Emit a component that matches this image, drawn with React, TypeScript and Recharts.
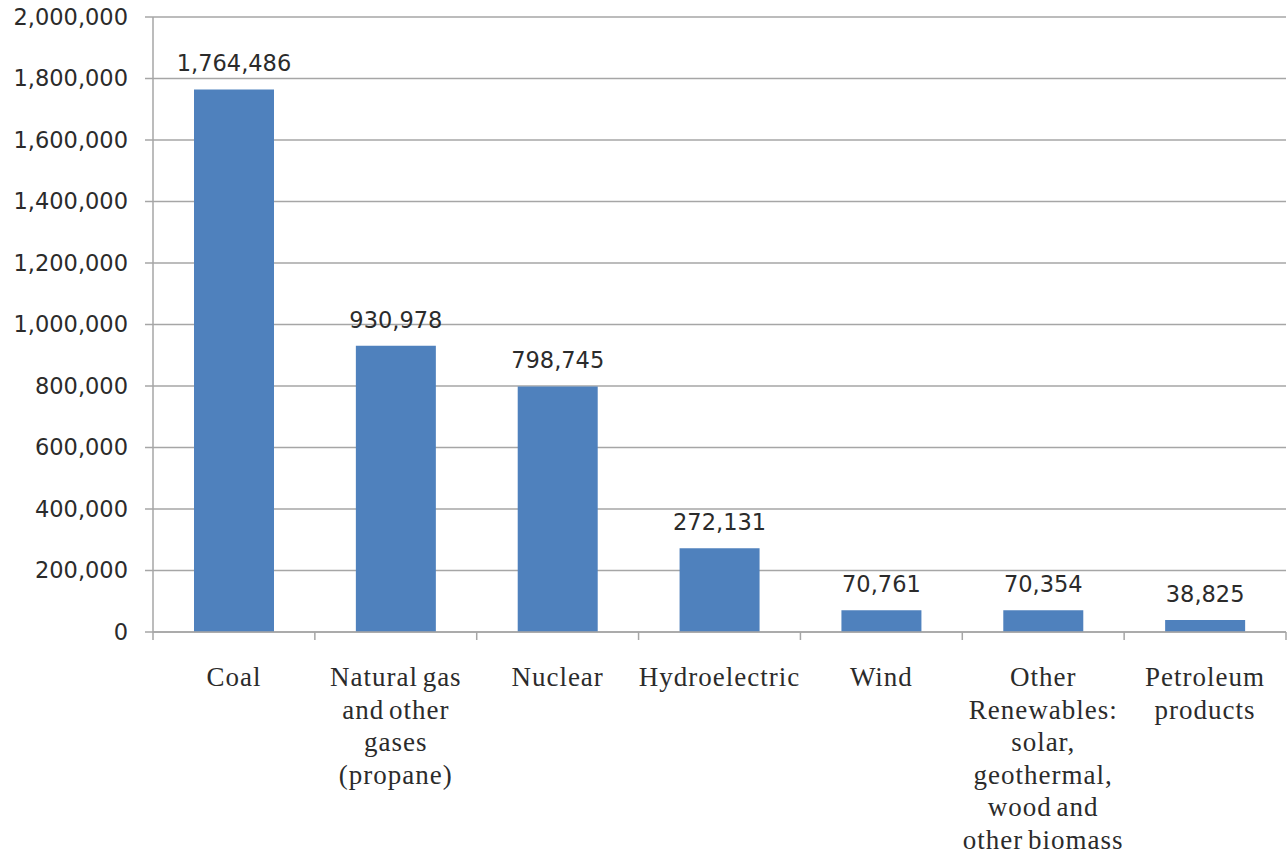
import { BarChart, Bar, XAxis, YAxis, CartesianGrid, LabelList } from "recharts";

const categories = [
  "Coal",
  "Natural gas\nand other\ngases\n(propane)",
  "Nuclear",
  "Hydroelectric",
  "Wind",
  "Other\nRenewables:\nsolar,\ngeothermal,\nwood and\nother biomass",
  "Petroleum\nproducts",
];
const generation = [1764486, 930978, 798745, 272131, 70761, 70354, 38825];
const yTicks = [0, 200000, 400000, 600000, 800000, 1000000, 1200000, 1400000, 1600000, 1800000, 2000000];

const chartData = categories.map((name, i) => ({ name, value: generation[i] }));

const SERIF = "Liberation Serif";
const SANS = "DejaVu Sans";
const TEXT = "#2b2b2b";
const GRID = "#a6a6a6";
const fmt = (v: number) => v.toLocaleString("en-US");

function CategoryTick(props: any) {
  const { x, y, payload, index, visibleTicksCount } = props;
  const half = payload.offset ?? 0;
  const lines = String(payload.value).split("\n");
  const last = index === visibleTicksCount - 1;
  return (
    <g>
      <line x1={x - half} x2={x - half} y1={y} y2={y + 8} stroke={GRID} strokeWidth={1.5} />
      {last && <line x1={x + half} x2={x + half} y1={y} y2={y + 8} stroke={GRID} strokeWidth={1.5} />}
      <text
        x={x}
        y={y}
        textAnchor="middle"
        fill={TEXT}
        style={{ fontFamily: SERIF, fontSize: 27, letterSpacing: 1, wordSpacing: -3 }}
      >
        {lines.map((l, i) => (
          <tspan key={i} x={x} y={y + 54 + i * 32.5}>
            {l}
          </tspan>
        ))}
      </text>
    </g>
  );
}

export default function App() {
  return (
    <div style={{ position: "absolute", left: 0, top: 0, width: 1288, height: 854, background: "#fff" }}>
      <BarChart
        width={1288}
        height={854}
        data={chartData}
        margin={{ top: 17, right: 2, bottom: 0, left: 0 }}
      >
        <CartesianGrid vertical={false} stroke={GRID} strokeWidth={1.5} />
        <XAxis
          dataKey="name"
          interval={0}
          height={222}
          tickSize={0}
          tickMargin={0}
          tickLine={false}
          axisLine={{ stroke: GRID, strokeWidth: 1.5 }}
          tick={<CategoryTick />}
        />
        <YAxis
          width={153}
          domain={[0, 2000000]}
          ticks={yTicks}
          tickFormatter={fmt}
          tickSize={8}
          tickMargin={17}
          axisLine={{ stroke: GRID, strokeWidth: 1.5 }}
          tickLine={{ stroke: GRID, strokeWidth: 1.5 }}
          tick={{ fill: TEXT, fontSize: 22.5, fontFamily: SANS }}
        />
        <Bar dataKey="value" fill="#4f81bd" barSize={80} isAnimationActive={false}>
          <LabelList
            dataKey="value"
            position="top"
            offset={18}
            formatter={(v: any) => fmt(Number(v))}
            fill={TEXT}
            fontSize={22.5}
            fontFamily={SANS}
          />
        </Bar>
      </BarChart>
    </div>
  );
}
